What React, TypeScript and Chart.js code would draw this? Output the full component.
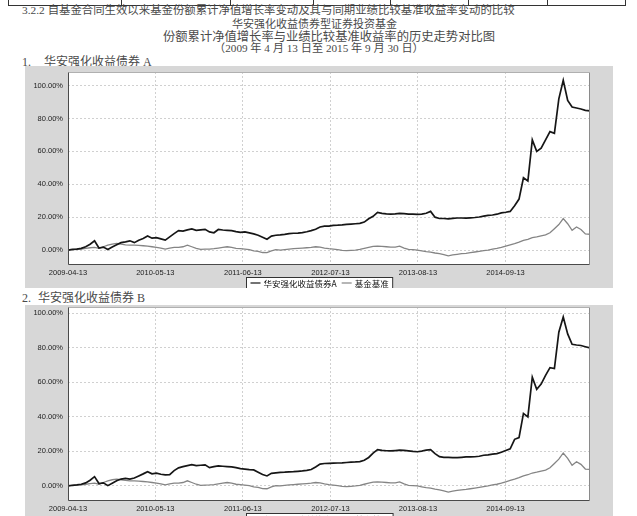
import React, { useEffect, useRef } from "react";
import { Chart, registerables } from "chart.js";

Chart.register(...registerables);

// ---------------- data ----------------
const START_DATE = "2009-04-13";
const END_DATE = "2015-09-30";
const SAMPLE_STEP_DAYS = 20;

const xTickDates = ["2009-04-13", "2010-05-13", "2011-06-13", "2012-07-13", "2013-08-13", "2014-09-13"];
const yTickValues = [0, 20, 40, 60, 80, 100];

const fundAName = "华安强化收益债券A";
const fundBName = "华安强化收益债券B";
const benchmarkName = "基金基准";

// cumulative NAV growth (%) sampled every 20 days from 2009-04-13
const fundA = [
  0, 0.4, 0.6, 1.0, 2.0, 3.5, 5.6, 1.2, 1.8, 0.3,
  1.8, 3.2, 4.5, 5.0, 5.6, 4.5, 6.0, 7.0, 8.5, 7.2,
  7.5, 6.8, 6.0, 8.0, 10.0, 11.8, 11.5, 12.3, 12.8, 12.0,
  12.3, 12.6, 11.0, 10.5, 12.5, 12.2, 12.0, 11.8, 11.2, 10.8,
  11.0, 10.4, 9.8, 9.0, 7.8, 6.6, 8.5, 9.0, 9.2, 9.5,
  10.0, 10.2, 10.3, 10.6, 11.1, 11.8, 12.6, 14.0, 14.5, 14.6,
  15.0, 15.1, 15.3, 15.6, 15.8, 16.0, 16.2, 17.0, 19.0, 20.5,
  22.9, 22.3, 22.0, 21.9, 22.0, 22.3, 22.1, 21.8, 21.9, 21.7,
  21.9, 22.4, 23.5, 20.0, 19.2, 19.2, 19.0, 19.3, 19.5, 19.5,
  19.4, 19.6, 19.8, 20.1, 20.6, 21.1, 21.3, 21.8, 22.6, 23.0,
  23.5, 27.0, 31.0, 44.0, 42.0, 67.0, 60.0, 62.0, 67.0, 72.0,
  71.0, 92.0, 103.3, 91.0, 87.0, 86.4, 85.8, 85.0, 84.6,
];

const fundB = [
  0, 0.4, 0.6, 1.0, 1.8, 3.3, 5.4, 1.4, 1.8, 0.2,
  1.6, 3.0, 4.0, 4.4, 4.0, 4.6, 5.8, 7.0, 8.3, 7.0,
  7.4, 6.8, 6.4, 6.6, 8.9, 10.5, 11.2, 11.8, 12.3, 11.8,
  12.0, 12.2, 10.6, 11.2, 11.6, 11.4, 11.2, 11.0, 10.6, 10.0,
  9.8, 9.5, 9.3, 8.0, 6.6, 5.8, 7.3, 7.6, 7.9, 8.0,
  8.2, 8.3, 8.5, 8.7, 9.0, 9.5, 11.0, 12.7, 13.0, 13.1,
  13.2, 13.3, 13.4, 13.6, 13.8, 13.9, 14.1, 14.9, 16.5, 19.0,
  21.0, 20.6, 20.4, 20.3, 20.5, 20.7, 20.6, 20.3, 20.0, 19.8,
  20.2, 20.8, 21.0, 18.7, 17.0, 16.6, 16.5, 16.4, 16.4, 16.6,
  16.8, 16.8, 16.9, 17.2, 17.8, 18.0, 18.4, 18.7, 19.5, 20.5,
  21.5, 27.0, 28.0, 42.0, 40.0, 63.0, 56.0, 59.0, 64.0, 68.5,
  68.0, 89.0, 97.8, 88.0, 82.0, 81.6, 81.3, 80.6, 79.9,
];

const benchmark = [
  0, 0.3, 0.5, 0.6, 1.0, 1.4, 1.6, 1.0, 2.0, 3.0,
  3.6, 4.0, 3.6, 3.2, 3.0, 3.0, 2.8, 2.6, 2.4, 2.0,
  1.6, 1.2, 0.6, 1.2, 1.6, 1.6, 2.0, 3.0, 2.0, 1.0,
  0.4, 0.5, 0.6, 0.8, 1.2, 1.6, 2.0, 1.6, 1.0, 0.8,
  0.5, 0.2, -0.5, -0.8, -1.5, -1.6, -0.5, 0.2, 0, 0.3,
  0.6, 0.8, 1.0, 1.2, 1.4, 1.6, 2.0, 1.8, 1.2, 0.8,
  0.5, 0.2, -0.2, -0.4, -0.2, 0, 0.4, 1.0, 1.6, 2.2,
  2.4, 2.2, 2.0, 1.8, 1.8, 2.4, 1.2, 0.4, 0.2, 0,
  -0.5, -1.0, -1.3, -1.8, -2.2, -2.8, -3.5, -3.0, -2.6, -2.2,
  -2.0, -1.6, -1.2, -0.8, -0.4, 0, 0.6, 1.0, 1.6, 2.4,
  3.2, 3.9, 4.8, 5.9, 6.5, 7.5, 8.0, 8.6, 9.2, 10.5,
  13.0, 15.5, 19.1, 16.0, 12.0, 14.0, 12.5, 9.8, 9.6,
];

// ---------------- helpers ----------------
const dayOffset = (d: string) => {
  const [y, m, dd] = d.split("-").map(Number);
  const [y0, m0, d0] = START_DATE.split("-").map(Number);
  return Math.round((Date.UTC(y, m - 1, dd) - Date.UTC(y0, m0 - 1, d0)) / 86400000);
};
const TOTAL_DAYS = dayOffset(END_DATE);
const xTickDays = xTickDates.map(dayOffset);
const toPoints = (vals: number[]) =>
  vals.map((v, i) => ({ x: i === vals.length - 1 ? TOTAL_DAYS : i * SAMPLE_STEP_DAYS, y: v }));

const AXIS_FONT = { family: '"Liberation Sans", Arial, sans-serif', size: 7.5 };
const CJK = '"Noto Sans CJK SC", sans-serif';

const panelPlugin = {
  id: "panelPlugin",
  beforeDraw(chart: any) {
    const { ctx, chartArea: a, width, height } = chart;
    ctx.save();
    ctx.fillStyle = "#d7d7d7";
    ctx.fillRect(0, 0, width, height);
    ctx.fillStyle = "#ffffff";
    ctx.fillRect(a.left, a.top, a.right - a.left, a.bottom - a.top);
    ctx.restore();
  },
  afterDatasetsDraw(chart: any) {
    const { ctx, chartArea: a } = chart;
    ctx.save();
    ctx.lineWidth = 1;
    const L = Math.round(a.left) + 0.5, R = Math.round(a.right) - 0.5;
    const T = Math.round(a.top) + 0.5, B = Math.round(a.bottom) - 0.5;
    ctx.strokeStyle = "#b0b0b0";
    ctx.beginPath(); ctx.moveTo(L, T); ctx.lineTo(R, T); ctx.stroke();
    ctx.strokeStyle = "#8a8a8a";
    ctx.beginPath(); ctx.moveTo(R, T); ctx.lineTo(R, B); ctx.stroke();
    ctx.strokeStyle = "#4a4a4a";
    ctx.beginPath(); ctx.moveTo(L, T); ctx.lineTo(L, B); ctx.lineTo(R, B); ctx.stroke();
    ctx.restore();
  },
  afterDraw(chart: any) {
    const { ctx, chartArea: a, width } = chart;
    const ds = chart.data.datasets;
    ctx.save();
    ctx.font = `8.5px ${CJK}`;
    const lineLen = 10, gap = 3, itemGap = 5, padX = 4, h = 11;
    const widths = ds.map((d: any) => ctx.measureText(d.label).width);
    const total = padX * 2 + widths.reduce((s: number, w: number) => s + lineLen + gap + w, 0) + itemGap * (ds.length - 1);
    const x0 = Math.round(width / 2 - total / 2) + 0.5;
    const y0 = Math.round(a.bottom + 12) + 0.5;
    ctx.fillStyle = "#ffffff";
    ctx.fillRect(x0, y0, total, h);
    ctx.strokeStyle = "#333333";
    ctx.lineWidth = 1;
    ctx.strokeRect(x0, y0, total, h);
    let x = x0 + padX;
    const cy = y0 + h / 2;
    ds.forEach((d: any, k: number) => {
      ctx.strokeStyle = d.borderColor;
      ctx.lineWidth = 1.2;
      ctx.beginPath(); ctx.moveTo(x, cy); ctx.lineTo(x + lineLen, cy); ctx.stroke();
      x += lineLen + gap;
      ctx.fillStyle = "#111111";
      ctx.textBaseline = "middle";
      ctx.fillText(d.label, x, cy + 0.5);
      x += widths[k] + itemGap;
    });
    ctx.restore();
  },
};

function buildConfig(fundValues: number[], fundName: string, yMin: number, yMax: number, topPad: number, xAxisHeight: number) {
  return {
    type: "line" as const,
    data: {
      datasets: [
        { label: fundName, data: toPoints(fundValues), borderColor: "#161616", borderWidth: 1.7, pointRadius: 0, tension: 0 },
        { label: benchmarkName, data: toPoints(benchmark), borderColor: "#858585", borderWidth: 1.3, pointRadius: 0, tension: 0 },
      ],
    },
    options: {
      animation: false as const,
      responsive: false,
      layout: { padding: { top: topPad, right: 23, left: 0, bottom: 0 } },
      plugins: { legend: { display: false }, tooltip: { enabled: false } },
      scales: {
        x: {
          type: "linear" as const,
          min: 0,
          max: TOTAL_DAYS,
          afterBuildTicks: (s: any) => { s.ticks = xTickDays.map((v) => ({ value: v })); },
          afterFit: (s: any) => { s.height = xAxisHeight; s.paddingLeft = 0; s.paddingRight = 0; },
          ticks: {
            autoSkip: false, maxRotation: 0, padding: 3, color: "#222", font: AXIS_FONT,
            callback: (v: any) => xTickDates[xTickDays.indexOf(v)] ?? "",
          },
          grid: { color: "#d0d0d0", drawTicks: false },
          border: { display: false, dash: [2, 2] },
        },
        y: {
          type: "linear" as const,
          min: yMin,
          max: yMax,
          afterBuildTicks: (s: any) => { s.ticks = yTickValues.map((v) => ({ value: v })); },
          afterFit: (s: any) => { s.width = 43; s.paddingTop = 0; s.paddingBottom = 0; },
          ticks: { padding: 5, color: "#222", font: AXIS_FONT, callback: (v: any) => Number(v).toFixed(2) + "%" },
          grid: { color: "#d0d0d0", drawTicks: false },
          border: { display: false, dash: [2, 2] },
        },
      },
    },
    plugins: [panelPlugin],
  };
}

function LineChart(props: { top: number; config: any }) {
  const ref = useRef<HTMLCanvasElement | null>(null);
  useEffect(() => {
    if (!ref.current) return;
    const chart = new Chart(ref.current, props.config);
    return () => chart.destroy();
  }, []);
  return (
    <canvas
      ref={ref}
      width={588}
      height={222}
      style={{ position: "absolute", left: 25, top: props.top, width: 588, height: 222 }}
    />
  );
}

const tableColumns = [8, 121, 230, 313, 390, 468, 547, 625];

export default function App() {
  const font = `"Liberation Serif", "Noto Sans CJK SC", serif`;
  const t = (left: number, top: number, size: number, text: string, extra: any = {}) => (
    <div
      style={{
        position: "absolute", left, top, fontSize: size, lineHeight: `${size}px`, whiteSpace: "nowrap",
        color: "#4a4a4a", fontFamily: font, ...extra,
      }}
    >
      {text}
    </div>
  );
  return (
    <div style={{ position: "absolute", left: 0, top: 0, width: 637, height: 516, overflow: "hidden", background: "#fff" }}>
      <div style={{ position: "absolute", left: 8, top: 5, width: 618, height: 0, borderTop: "1px solid #333" }} />
      {tableColumns.map((x) => (
        <div key={x} style={{ position: "absolute", left: x, top: 0, width: 0, height: 6, borderLeft: "1px solid #333" }} />
      ))}
      {t(22, 5, 11.4, "3.2.2 自基金合同生效以来基金份额累计净值增长率变动及其与同期业绩比较基准收益率变动的比较")}
      {t(232, 19, 11, "华安强化收益债券型证券投资基金")}
      {t(163, 31, 12.3, "份额累计净值增长率与业绩比较基准收益率的历史走势对比图")}
      {t(214, 43, 11.2, "（2009 年 4 月 13 日至 2015 年 9 月 30 日）")}
      {t(22, 56, 12, "1.")}
      {t(44, 56, 12, "华安强化收益债券 A")}
      {t(22, 292, 12, "2.")}
      {t(38, 292, 12, "华安强化收益债券 B")}
      <LineChart top={66} config={buildConfig(fundA, fundAName, -9.1, 108.3, 6, 23)} />
      <LineChart top={305} config={buildConfig(fundB, fundBName, -8.7, 103.6, 2, 26)} />
    </div>
  );
}
